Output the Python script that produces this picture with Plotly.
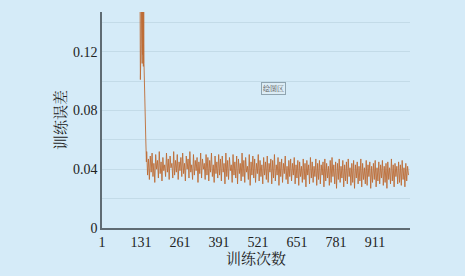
import plotly.graph_objects as go

# Spike region (iterations 128..149)
spike_start = 128
spike_values = [0.155, 0.101, 0.150, 0.125, 0.155, 0.130, 0.152, 0.112, 0.160, 0.118,
                0.155, 0.110, 0.150, 0.112, 0.098, 0.087, 0.068, 0.085, 0.072, 0.060,
                0.053, 0.045]

# Noisy tail (iterations 150, 153, 156, ...)
tail_start = 150
tail_step = 3
tail_values = [
    0.052,0.036,0.047,0.033,0.049,0.038,0.051,0.035,0.044,0.031,0.050,0.040,0.046,0.034,0.052,0.037,0.045,0.032,0.048,0.039,
    0.043,0.035,0.051,0.038,0.047,0.033,0.049,0.041,0.044,0.034,0.052,0.036,0.046,0.038,0.050,0.033,0.045,0.039,0.048,0.035,
    0.051,0.037,0.044,0.032,0.049,0.040,0.047,0.034,0.052,0.038,0.043,0.033,0.050,0.036,0.046,0.039,0.048,0.031,0.045,0.037,
    0.051,0.034,0.047,0.040,0.044,0.033,0.050,0.036,0.048,0.032,0.046,0.038,0.051,0.035,0.043,0.031,0.049,0.037,0.045,0.034,
    0.050,0.036,0.047,0.032,0.049,0.038,0.044,0.030,0.051,0.035,0.046,0.033,0.048,0.039,0.043,0.031,0.050,0.036,0.045,0.034,
    0.049,0.030,0.047,0.037,0.044,0.032,0.051,0.035,0.046,0.031,0.048,0.038,0.042,0.033,0.050,0.029,0.045,0.036,0.049,0.034,
    0.047,0.031,0.044,0.037,0.050,0.032,0.046,0.035,0.043,0.030,0.048,0.036,0.045,0.033,0.049,0.031,0.044,0.038,0.047,0.030,
    0.046,0.034,0.050,0.032,0.043,0.036,0.048,0.029,0.045,0.035,0.047,0.031,0.044,0.037,0.049,0.033,0.042,0.030,0.046,0.035,
    0.047,0.032,0.044,0.036,0.048,0.030,0.043,0.034,0.046,0.029,0.045,0.035,0.042,0.031,0.047,0.033,0.044,0.028,0.046,0.036,
    0.043,0.030,0.048,0.034,0.045,0.031,0.042,0.035,0.047,0.029,0.044,0.033,0.046,0.030,0.043,0.036,0.045,0.028,0.047,0.032,
    0.044,0.034,0.042,0.029,0.046,0.031,0.048,0.035,0.043,0.030,0.045,0.027,0.044,0.033,0.047,0.031,0.042,0.034,0.046,0.028,
    0.043,0.032,0.045,0.030,0.047,0.035,0.041,0.029,0.044,0.031,0.046,0.027,0.043,0.034,0.045,0.030,0.042,0.032,0.047,0.028,
    0.044,0.033,0.041,0.030,0.046,0.029,0.043,0.035,0.045,0.027,0.042,0.031,0.044,0.033,0.046,0.028,0.041,0.032,0.045,0.030,
    0.043,0.034,0.046,0.029,0.042,0.031,0.044,0.027,0.045,0.033,0.041,0.030,0.047,0.032,0.043,0.028,0.044,0.035,0.042,0.030,
    0.045,0.031,0.043,0.029,0.046,0.033,0.041,0.028,0.044,0.032,0.042,0.036,
]

x_tick_vals = [1, 131, 261, 391, 521, 651, 781, 911]
x_tick_text = ["1", "131", "261", "391", "521", "651", "781", "911"]
y_tick_vals = [0, 0.04, 0.08, 0.12]
y_tick_text = ["0", "0.04", "0.08", "0.12"]

x_title = "训练次数"
y_title = "训练误差"
note_text = "绘图区"

iters = list(range(spike_start, spike_start + len(spike_values))) + \
        [tail_start + i * tail_step for i in range(len(tail_values))]
values = spike_values + tail_values

bg = "#d5ebf8"
serif = "Liberation Serif, Noto Serif CJK SC, Noto Sans CJK SC, serif"

fig = go.Figure()
fig.add_trace(go.Scatter(
    x=iters, y=values, mode="lines",
    line=dict(color="#bd6c36", width=0.9),
    showlegend=False, hoverinfo="skip",
))

fig.update_layout(
    width=465, height=276,
    margin=dict(l=102, r=55, t=12, b=48),
    paper_bgcolor=bg, plot_bgcolor=bg,
    font=dict(family=serif, size=14, color="#222222"),
    xaxis=dict(
        range=[1, 1028], tickmode="array", tickvals=x_tick_vals, ticktext=x_tick_text,
        showgrid=False, zeroline=False, showline=True, linecolor="#5f6b73", linewidth=1.5,
        ticks="", tickfont=dict(size=14, family=serif),
        title=dict(text=x_title, font=dict(size=15, family=serif), standoff=5),
    ),
    yaxis=dict(
        range=[0, 0.147], tickmode="array", tickvals=y_tick_vals, ticktext=y_tick_text,
        showgrid=True, gridcolor="#c3dbe8", gridwidth=1,
        minor=dict(dtick=0.02, showgrid=True, gridcolor="#c3dbe8", gridwidth=1),
        zeroline=False, showline=True, linecolor="#5f6b73", linewidth=1.5,
        ticks="", tickfont=dict(size=14, family=serif),
        title=dict(text=y_title, font=dict(size=15, family=serif), standoff=3),
    ),
    annotations=[dict(
        text=note_text, xref="paper", yref="paper", x=0.558, y=0.676,
        showarrow=False, font=dict(size=7, color="#555555"),
        bgcolor="#dcecf5", bordercolor="#8fa4b0", borderwidth=1, borderpad=1,
    )],
)

fig.write_html("out.html")
